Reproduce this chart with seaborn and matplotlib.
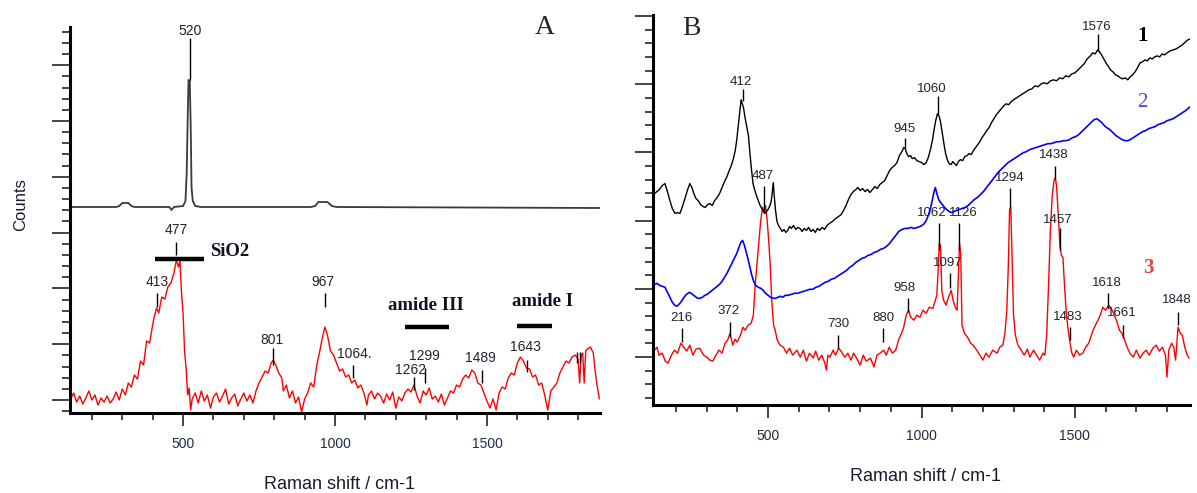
import numpy as np
import pandas as pd
import matplotlib.pyplot as plt
import seaborn as sns

# Raman shift (cm-1), counts (a.u.)
A_TOP = [(128, 206), (280, 206), (290, 207), (300, 210), (320, 210), (330, 207), (340, 206),
         (455, 206), (462, 203), (470, 206), (500, 207), (508, 212), (512, 240), (515, 290),
         (518, 333), (522, 333), (525, 290), (528, 225), (532, 212), (540, 207), (560, 206),
         (920, 206), (935, 207), (945, 211), (975, 211), (990, 207), (1005, 206), (1872, 205)]

A_RED = [(130, 14), (140, 20), (150, 11), (160, 17), (170, 9), (180, 15), (190, 22), (200, 13),
         (210, 18), (220, 8), (230, 15), (240, 11), (250, 17), (260, 10), (270, 14), (280, 21),
         (290, 13), (300, 24), (310, 18), (320, 30), (330, 26), (340, 38), (350, 34), (360, 52),
         (370, 48), (380, 72), (390, 70), (400, 88), (405, 96), (413, 105), (420, 100), (430, 116),
         (440, 114), (450, 126), (460, 130), (470, 140), (478, 153), (485, 146), (490, 152),
         (495, 120), (500, 100), (505, 62), (510, 45), (515, 18), (520, 25), (525, 3), (530, 14),
         (540, 20), (550, 10), (560, 22), (570, 12), (580, 18), (590, 5), (600, 16), (610, 20),
         (620, 11), (630, 17), (640, 24), (650, 9), (660, 15), (670, 19), (680, 7), (690, 14),
         (700, 20), (710, 12), (720, 18), (730, 10), (740, 22), (750, 30), (760, 36), (770, 42),
         (780, 40), (790, 50), (797, 53), (805, 48), (815, 40), (825, 35), (830, 22), (840, 28),
         (850, 15), (860, 22), (870, 10), (880, 16), (890, 1), (900, 14), (910, 20), (920, 30),
         (930, 26), (940, 48), (950, 62), (958, 75), (967, 86), (975, 78), (985, 62), (995, 58),
         (1005, 50), (1015, 42), (1025, 44), (1035, 36), (1045, 38), (1055, 30), (1065, 33),
         (1075, 25), (1085, 28), (1095, 20), (1105, 8), (1110, 18), (1120, 22), (1130, 14),
         (1140, 20), (1150, 17), (1160, 10), (1170, 19), (1180, 13), (1190, 21), (1200, 5),
         (1210, 16), (1220, 12), (1230, 20), (1240, 24), (1250, 21), (1260, 28), (1270, 17),
         (1280, 10), (1290, 22), (1300, 18), (1310, 25), (1320, 14), (1330, 17), (1340, 11),
         (1350, 19), (1360, 8), (1370, 15), (1380, 22), (1390, 20), (1400, 28), (1410, 26),
         (1420, 34), (1430, 38), (1440, 35), (1450, 43), (1460, 40), (1470, 30), (1480, 28),
         (1490, 20), (1500, 12), (1510, 5), (1520, 14), (1530, 3), (1540, 20), (1550, 26),
         (1560, 24), (1570, 35), (1580, 40), (1590, 38), (1600, 50), (1610, 56), (1620, 52),
         (1630, 45), (1640, 44), (1650, 36), (1660, 38), (1670, 28), (1680, 30), (1690, 18),
         (1700, 3), (1710, 22), (1720, 26), (1730, 30), (1740, 40), (1750, 46), (1760, 52),
         (1770, 50), (1780, 56), (1790, 58), (1800, 54), (1805, 30), (1810, 58), (1815, 60),
         (1820, 30), (1825, 62), (1830, 64), (1840, 66), (1850, 60), (1855, 45), (1862, 28),
         (1870, 14)]

B_1 = [(130, 212), (138, 214), (146, 216), (155, 220), (164, 222), (172, 214), (180, 205),
       (188, 197), (197, 192), (205, 193), (213, 192), (222, 200), (230, 208), (238, 216),
       (245, 222), (252, 218), (258, 212), (265, 207), (272, 205), (280, 201), (288, 199),
       (295, 198), (303, 201), (310, 202), (318, 200), (326, 205), (334, 208), (342, 212),
       (350, 218), (358, 224), (366, 229), (372, 234), (380, 240), (387, 247), (393, 255),
       (398, 266), (403, 280), (408, 294), (412, 306), (416, 302), (420, 298), (425, 288),
       (430, 280), (436, 270), (441, 252), (446, 236), (451, 222), (456, 216), (462, 210),
       (468, 205), (474, 200), (480, 197), (485, 194), (490, 192), (495, 194), (500, 196),
       (505, 199), (510, 204), (514, 214), (517, 223), (520, 210), (524, 196), (529, 184),
       (534, 180), (540, 177), (546, 174), (552, 176), (558, 173), (564, 175), (570, 179),
       (576, 177), (583, 180), (590, 176), (597, 178), (604, 177), (611, 174), (618, 177),
       (625, 175), (632, 178), (640, 174), (647, 176), (654, 173), (661, 177), (668, 175),
       (676, 178), (684, 176), (692, 180), (700, 182), (710, 184), (720, 187), (730, 189),
       (738, 191), (746, 195), (754, 200), (762, 206), (770, 211), (778, 214), (786, 216),
       (793, 218), (800, 215), (808, 217), (816, 214), (824, 216), (832, 213), (840, 216),
       (848, 219), (856, 217), (864, 221), (872, 223), (880, 225), (888, 230), (896, 235),
       (904, 238), (912, 240), (920, 243), (928, 250), (936, 254), (942, 258), (947, 257),
       (952, 252), (958, 249), (964, 250), (970, 247), (977, 248), (985, 245), (993, 244),
       (1001, 243), (1008, 241), (1015, 243), (1022, 248), (1029, 256), (1036, 266),
       (1042, 278), (1047, 286), (1052, 292), (1057, 290), (1062, 284), (1067, 274),
       (1072, 264), (1078, 253), (1084, 246), (1090, 242), (1096, 241), (1102, 244),
       (1108, 242), (1114, 240), (1120, 244), (1127, 246), (1134, 245), (1141, 249),
       (1148, 250), (1155, 252), (1162, 251), (1169, 255), (1176, 258), (1183, 261),
       (1190, 264), (1197, 268), (1204, 271), (1212, 275), (1220, 278), (1228, 283),
       (1236, 287), (1244, 291), (1252, 294), (1260, 297), (1268, 300), (1276, 302),
       (1284, 301), (1292, 304), (1300, 306), (1310, 308), (1320, 310), (1330, 312),
       (1340, 314), (1350, 316), (1360, 317), (1370, 320), (1380, 319), (1390, 322),
       (1400, 323), (1410, 322), (1420, 325), (1430, 326), (1440, 325), (1450, 328),
       (1460, 327), (1470, 330), (1480, 329), (1490, 332), (1500, 333), (1510, 336),
       (1520, 339), (1530, 342), (1540, 347), (1550, 350), (1558, 353), (1566, 352),
       (1574, 356), (1580, 354), (1587, 351), (1594, 347), (1601, 343), (1608, 340),
       (1616, 336), (1624, 334), (1632, 331), (1640, 330), (1648, 328), (1656, 327),
       (1664, 328), (1672, 326), (1680, 329), (1688, 331), (1696, 334), (1704, 338),
       (1712, 343), (1720, 344), (1728, 346), (1736, 345), (1744, 348), (1752, 347),
       (1760, 349), (1768, 350), (1776, 349), (1784, 352), (1792, 351), (1800, 353),
       (1810, 355), (1820, 356), (1830, 357), (1840, 359), (1850, 361), (1860, 364),
       (1868, 366), (1875, 367)]

B_2 = [(130, 121), (138, 122), (146, 120), (155, 119), (164, 118), (172, 113), (180, 108),
       (188, 103), (196, 100), (203, 99), (210, 101), (218, 104), (226, 108), (234, 111),
       (245, 113), (253, 111), (262, 109), (270, 107), (278, 107), (286, 108), (294, 110),
       (302, 111), (310, 113), (318, 115), (326, 117), (334, 119), (342, 121), (350, 124),
       (358, 128), (366, 132), (374, 137), (382, 142), (390, 147), (398, 152), (405, 158),
       (411, 163), (417, 165), (423, 160), (429, 153), (435, 146), (441, 138), (447, 130),
       (453, 124), (460, 120), (468, 118), (476, 117), (484, 115), (492, 112), (500, 110),
       (508, 108), (516, 107), (524, 107), (532, 108), (540, 109), (548, 108), (556, 110),
       (566, 110), (576, 111), (586, 112), (596, 112), (606, 113), (616, 114), (626, 115),
       (636, 116), (646, 116), (656, 118), (666, 119), (676, 121), (686, 123), (696, 124),
       (706, 126), (716, 127), (726, 129), (736, 131), (746, 133), (756, 135), (766, 138),
       (776, 140), (786, 143), (796, 145), (806, 147), (816, 148), (826, 150), (836, 151),
       (846, 153), (856, 154), (866, 156), (876, 157), (886, 159), (896, 162), (906, 166),
       (916, 170), (926, 174), (936, 176), (946, 177), (956, 177), (966, 178), (976, 177),
       (986, 178), (996, 179), (1006, 181), (1014, 184), (1022, 190), (1030, 198),
       (1036, 207), (1041, 214), (1045, 218), (1050, 212), (1056, 206), (1062, 203),
       (1068, 201), (1075, 198), (1082, 196), (1090, 194), (1098, 193), (1106, 194),
       (1114, 195), (1122, 196), (1132, 197), (1142, 198), (1152, 200), (1162, 203),
       (1172, 206), (1182, 208), (1192, 211), (1202, 214), (1212, 218), (1222, 222),
       (1232, 226), (1242, 230), (1252, 234), (1262, 237), (1272, 240), (1282, 243),
       (1292, 245), (1302, 247), (1312, 249), (1322, 251), (1332, 253), (1342, 254),
       (1352, 256), (1362, 257), (1372, 258), (1382, 259), (1392, 260), (1402, 261),
       (1412, 262), (1422, 262), (1432, 263), (1442, 264), (1452, 264), (1462, 265),
       (1472, 265), (1482, 266), (1492, 268), (1502, 269), (1512, 271), (1522, 274),
       (1532, 277), (1542, 280), (1552, 283), (1562, 286), (1572, 287), (1580, 285),
       (1588, 283), (1596, 280), (1604, 278), (1614, 276), (1624, 273), (1634, 270),
       (1644, 268), (1654, 266), (1664, 265), (1672, 265), (1680, 266), (1690, 268),
       (1700, 270), (1710, 272), (1720, 274), (1730, 275), (1740, 277), (1750, 278),
       (1760, 279), (1770, 281), (1780, 282), (1790, 283), (1800, 285), (1810, 286),
       (1820, 287), (1830, 289), (1840, 291), (1850, 293), (1860, 295), (1868, 297),
       (1875, 299)]

B_3 = [(130, 55), (138, 58), (145, 50), (155, 52), (165, 44), (174, 42), (185, 50), (195, 55),
       (205, 52), (216, 62), (225, 58), (235, 54), (245, 60), (255, 50), (265, 56), (277, 57),
       (290, 50), (300, 48), (310, 45), (320, 44), (330, 50), (340, 55), (350, 52), (360, 62),
       (368, 65), (376, 72), (385, 60), (392, 66), (399, 63), (410, 70), (418, 78), (425, 75),
       (435, 80), (445, 82), (452, 90), (458, 120), (464, 142), (470, 165), (476, 185),
       (482, 198), (487, 193), (492, 200), (497, 185), (502, 165), (507, 140), (512, 105),
       (518, 80), (523, 75), (530, 65), (539, 60), (550, 58), (560, 52), (570, 57), (580, 50),
       (594, 55), (605, 48), (615, 55), (625, 44), (635, 52), (647, 47), (655, 54), (665, 45),
       (675, 50), (685, 42), (690, 35), (695, 50), (702, 48), (712, 55), (720, 50), (730, 57),
       (740, 53), (750, 48), (760, 52), (770, 45), (779, 52), (790, 46), (800, 40), (810, 50),
       (820, 44), (834, 47), (845, 38), (855, 50), (865, 52), (877, 55), (885, 50), (895, 58),
       (905, 52), (916, 55), (925, 65), (935, 72), (942, 78), (950, 90), (958, 95), (965, 88),
       (975, 85), (985, 90), (995, 88), (1005, 95), (1015, 92), (1025, 98), (1037, 97),
       (1045, 105), (1050, 110), (1055, 140), (1058, 162), (1062, 160), (1066, 115),
       (1072, 105), (1080, 100), (1088, 108), (1097, 115), (1103, 105), (1110, 98),
       (1116, 95), (1120, 130), (1124, 162), (1128, 150), (1132, 80), (1140, 72), (1150, 68),
       (1160, 62), (1168, 60), (1180, 55), (1190, 50), (1200, 45), (1210, 52), (1220, 48),
       (1232, 55), (1246, 52), (1255, 58), (1265, 60), (1272, 72), (1278, 95), (1283, 140),
       (1287, 196), (1291, 198), (1295, 150), (1300, 90), (1306, 70), (1314, 60), (1325, 55),
       (1335, 50), (1345, 56), (1353, 48), (1365, 55), (1375, 50), (1385, 45), (1396, 52),
       (1402, 50), (1408, 70), (1414, 120), (1420, 175), (1426, 210), (1432, 225), (1436, 228),
       (1440, 220), (1446, 190), (1451, 160), (1456, 150), (1461, 148), (1466, 120),
       (1472, 92), (1478, 75), (1484, 62), (1490, 52), (1496, 48), (1505, 55), (1515, 50),
       (1526, 52), (1535, 58), (1545, 62), (1559, 75), (1570, 82), (1580, 88), (1591, 98),
       (1600, 95), (1610, 100), (1618, 97), (1626, 92), (1635, 85), (1645, 75), (1653, 72),
       (1662, 65), (1670, 58), (1679, 52), (1690, 48), (1700, 55), (1712, 47), (1722, 52),
       (1732, 55), (1742, 50), (1754, 57), (1765, 60), (1775, 54), (1785, 58), (1795, 50),
       (1800, 28), (1806, 55), (1815, 62), (1822, 58), (1828, 45), (1836, 78), (1843, 72),
       (1850, 70), (1858, 58), (1866, 50), (1872, 47)]

# peak labels: text, text x, text y, marker x, marker bottom, marker top
A_PEAKS = [("520", 523, 382, 523, 333, 375), ("477", 477, 183, 477, 158, 171),
           ("413", 414, 131, 414, 106, 120), ("801", 793, 73, 796, 48, 65),
           ("967", 960, 131, 967, 106, 120), ("1064.", 1062, 59, 1059, 35, 48),
           ("1262", 1247, 43, 1260, 23, 36), ("1299", 1293, 57, 1296, 30, 45),
           ("1489", 1477, 55, 1484, 30, 43), ("1643", 1628, 66, 1632, 41, 53)]
A_EXTRA_MARKS = [1796, 1806]
A_BANDS = [("SiO2", 408, 569, 154, 589, 162, "left"),
           ("amide III", 1230, 1375, 86, 1299, 108, "center"),
           ("amide I", 1599, 1714, 87, 1684, 112, "center")]

B_PEAKS = [("412", 412, 324, 417, 305, 317), ("487", 484, 230, 487, 192, 220),
           ("945", 946, 277, 946, 258, 268), ("1060", 1034, 317, 1054, 292, 310),
           ("1576", 1572, 379, 1575, 355, 372), ("1438", 1432, 251, 1435, 227, 240),
           ("1294", 1288, 228, 1288, 198, 218), ("1062", 1035, 192, 1057, 155, 182),
           ("1126", 1136, 192, 1122, 155, 182), ("1457", 1445, 185, 1452, 155, 177),
           ("1097", 1086, 142, 1093, 117, 132), ("958", 946, 117, 955, 93, 107),
           ("216", 217, 87, 219, 63, 77), ("372", 370, 94, 376, 68, 83),
           ("730", 728, 81, 728, 57, 70), ("880", 875, 87, 875, 63, 77),
           ("1483", 1477, 88, 1484, 65, 78), ("1618", 1604, 122, 1608, 97, 112),
           ("1661", 1653, 92, 1656, 67, 80), ("1848", 1832, 105, 1835, 80, 93)]
B_TAGS = [("1", 1721, 370, "black", "bold"), ("2", 1721, 303, "#4a4ad8", "normal"),
          ("3", 1738, 137, "#e8403a", "bold")]


def frame(pairs):
    return pd.DataFrame(pairs, columns=["shift", "counts"])


def style_axis(ax, xlim, ylim, y0, ystep):
    for s in ["top", "right"]:
        ax.spines[s].set_visible(False)
    for s in ["left", "bottom"]:
        ax.spines[s].set_linewidth(2.2)
        ax.spines[s].set_color("black")
    ax.set_xlim(*xlim)
    ax.set_ylim(*ylim)
    ax.set_xticks([500, 1000, 1500])
    ax.set_xticks(range(200, 1900, 100), minor=True)
    major = np.arange(y0, ylim[1] + 0.5, ystep)
    minor = np.arange(y0 - ystep / 5 * int(y0 // (ystep / 5)), ylim[1] + 0.5, ystep / 5)
    ax.set_yticks(major)
    ax.set_yticks(minor, minor=True)
    ax.tick_params(axis="x", which="major", direction="out", length=9, width=1.2,
                   pad=8, labelsize=10, labelcolor="#1f2a44")
    ax.tick_params(axis="x", which="minor", direction="out", length=5, width=1.2)
    ax.tick_params(axis="y", which="major", direction="out", length=13, width=1.2,
                   labelleft=False)
    ax.tick_params(axis="y", which="minor", direction="out", length=6, width=1.2)
    ax.set_xlabel("Raman shift / cm-1", fontsize=13, color="#1a1a2e")
    ax.set_ylabel("")


def label_peaks(ax, peaks, size=10):
    for txt, tx, ty, mx, y0, y1 in peaks:
        ax.vlines(mx, y0, y1, color="black", lw=1.0, zorder=4)
        ax.text(tx, ty, txt, ha="center", va="center", fontsize=size, color="#222230",
                zorder=3)


sns.set_theme(style="ticks")
plt.rcParams["font.family"] = ["Liberation Sans", "DejaVu Sans"]

fig = plt.figure(figsize=(11.97, 4.93), dpi=100)
axA = fig.add_axes([70 / 1197, 80 / 493, 530 / 1197, 386 / 493])
axB = fig.add_axes([653 / 1197, 88 / 493, 537 / 1197, 390 / 493])

# panel A
sns.lineplot(data=frame(A_TOP), x="shift", y="counts", ax=axA, color="#3a3a3a",
             lw=1.3, estimator=None, sort=False)
sns.lineplot(data=frame(A_RED), x="shift", y="counts", ax=axA, color="#ff0000",
             lw=1.0, estimator=None, sort=False)
style_axis(axA, (128, 1872), (0, 386), 13, 55.8)
label_peaks(axA, A_PEAKS)
axA.vlines(A_EXTRA_MARKS, 50, 61, color="black", lw=1.0)
for name, x0, x1, yb, tx, ty, ha in A_BANDS:
    axA.hlines(yb, x0, x1, color="black", lw=3.2)
    axA.text(tx, ty, name, ha=ha, va="center", fontsize=13.5, fontweight="bold",
             family="Liberation Serif", color="#111122")
axA.text(1691, 385, "A", ha="center", va="center", fontsize=20,
         family="Liberation Serif", clip_on=False)
axA.set_ylabel("Counts", fontsize=12, color="#1a1a2e")
axA.yaxis.set_label_coords(-0.079, 0.539)
axA.xaxis.set_label_coords(0.509, -0.163)

# panel B
sns.lineplot(data=frame(B_3), x="shift", y="counts", ax=axB, color="#ff0000",
             lw=1.0, estimator=None, sort=False)
sns.lineplot(data=frame(B_1), x="shift", y="counts", ax=axB, color="black",
             lw=1.0, estimator=None, sort=False)
sns.lineplot(data=frame(B_2), x="shift", y="counts", ax=axB, color="#0000ff",
             lw=1.2, estimator=None, sort=False)
axB.lines[-1].set_zorder(5)
style_axis(axB, (125, 1875), (0, 391), 48, 68.4)
label_peaks(axB, B_PEAKS, size=9.5)
for txt, tx, ty, col, wt in B_TAGS:
    axB.text(tx, ty, txt, ha="center", va="center", fontsize=15, fontweight=wt,
             family="Liberation Serif", color=col)
axB.text(249, 377, "B", ha="center", va="center", fontsize=20,
         family="Liberation Serif")
axB.xaxis.set_label_coords(0.508, -0.1615)

fig.savefig("out.png", dpi=100, facecolor="white")
